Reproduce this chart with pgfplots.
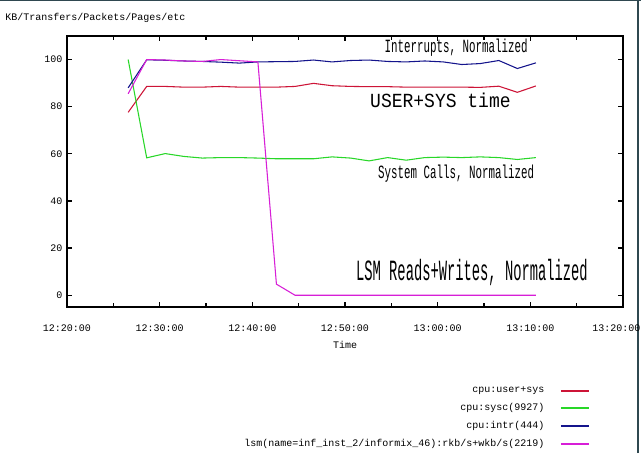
\documentclass[border=0pt]{standalone}
\usepackage{fontspec}
\usepackage{graphicx}
\usepackage{pgfplots}
\usepackage{pgfplotstable}
\pgfplotsset{compat=1.18}
\newfontfamily\mono{Liberation Mono}
\definecolor{cred}{RGB}{205,20,55}
\definecolor{cgreen}{RGB}{40,215,40}
\definecolor{cblue}{RGB}{20,20,140}
\definecolor{cmag}{RGB}{215,30,215}
\definecolor{frame}{RGB}{47,72,80}

\pgfplotstableread{
t    user  sysc   intr  lsm
26.6 77.6  100.0  88.0  85.5
28.6 88.6  58.3   99.9  100.0
30.6 88.6  60.1   99.7  99.8
32.6 88.3  58.9   99.4  99.4
34.6 88.3  58.2   99.2  99.2
36.6 88.6  58.4   98.9  100.0
38.6 88.3  58.4   98.5  99.5
40.6 88.3  58.2   99.0  99.0
42.6 88.3  57.9   99.1  4.7
44.6 88.6  57.9   99.2  0.0
46.6 89.9  57.9   99.8  0.0
48.6 88.9  58.7   99.0  0.0
50.6 88.6  58.2   99.6  0.0
52.6 88.5  57.0   99.8  0.0
54.6 88.5  58.4   99.2  0.0
56.6 88.3  57.3   99.0  0.0
58.6 88.3  58.4   99.4  0.0
60.6 88.3  58.6   99.0  0.0
62.6 88.3  58.4   97.9  0.0
64.6 88.2  58.7   98.3  0.0
66.6 88.7  58.4   99.6  0.0
68.6 86.1  57.6   96.2  0.0
70.6 88.8  58.4   98.6  0.0
}\datatable

\begin{document}
\begin{tikzpicture}[x=0.75pt,y=0.75pt]
\path[use as bounding box] (0,0) rectangle (641,453);
\fill[white] (0,0) rectangle (641,453);
\draw[frame, line width=1.5pt] (0,452.5) -- (641,452.5);
\draw[frame, line width=1.5pt] (638,0) -- (638,453);
\node[anchor=west, font=\mono\fontsize{7.5}{9}\selectfont, inner sep=0pt] at (5,435) {KB/Transfers/Packets/Pages/etc};
\begin{axis}[
  at={(50.25pt,109.5pt)}, anchor=south west,
  scale only axis, width=417pt, height=203.25pt,
  xmin=20, xmax=80, ymin=-5, ymax=110,
  xtick={20,30,40,50,60,70},
  xticklabels={12:20:00,12:30:00,12:40:00,12:50:00,13:00:00,13:10:00},
  extra x ticks={80},
  extra x tick labels={13:20:00},
  extra x tick style={xticklabel style={xshift=-5pt}},
  minor xtick={25,35,45,55,65,75},
  ytick={0,20,40,60,80,100},
  tick align=inside, xtick pos=both, ytick pos=both,
  major tick length=3.75pt, minor tick length=3pt,
  axis line style={line width=1.6pt},
  tick style={black, line width=1pt},
  tick label style={font=\mono\fontsize{7.5}{9}\selectfont},
  xticklabel style={yshift=-9.5pt},
  /pgf/number format/assume math mode=true,
  xlabel={Time},
  xlabel style={font=\mono\fontsize{7.5}{9}\selectfont, yshift=-1pt},
  clip=false,
  legend cell align=right,
  legend plot pos=right,
  legend image code/.code={\draw[#1, line width=1.4pt] (0pt,0pt) -- (21pt,0pt);},
  legend style={draw=none, fill=none, at={(0.9406,-0.285)}, anchor=north east,
    font=\mono\fontsize{7.5}{9}\selectfont, row sep=2.4pt, inner sep=0pt,
    /tikz/every odd column/.append style={column sep=9.5pt}},
  every axis plot/.append style={line width=0.8pt},
]
\addplot[cred] table[x=t,y=user] {\datatable};
\addlegendentry{cpu:user+sys}
\addplot[cgreen] table[x=t,y=sysc] {\datatable};
\addlegendentry{cpu:sysc(9927)}
\addplot[cblue] table[x=t,y=intr] {\datatable};
\addlegendentry{cpu:intr(444)}
\addplot[cmag] table[x=t,y=lsm] {\datatable};
\addlegendentry{lsm(name=inf\_inst\_2/informix\_46):rkb/s+wkb/s(2219)}
\node at (axis cs:62.0,105.1) {\scalebox{0.58}[1]{\mono\fontsize{14}{14}\selectfont Interrupts, Normalized}};
\node at (axis cs:60.3,82.8) {\scalebox{0.9}[1]{\mono\fontsize{15}{15}\selectfont USER+SYS time}};
\node at (axis cs:62.0,51.5) {\scalebox{0.58}[1]{\mono\fontsize{14}{14}\selectfont System Calls, Normalized}};
\node at (axis cs:63.7,9.6) {\scalebox{0.47}[1]{\mono\fontsize{22}{22}\selectfont LSM Reads+Writes, Normalized}};
\end{axis}
\end{tikzpicture}
\end{document}
